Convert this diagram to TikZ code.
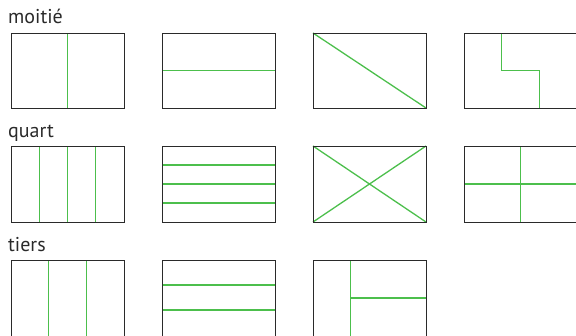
\documentclass[tikz,border=0pt]{standalone}
\usepackage{fontspec}
\setmainfont{PT Sans}
\definecolor{lgreen}{HTML}{4CBF4C}
\definecolor{frame}{HTML}{2A2A2A}
\tikzset{
  box/.style={draw=frame, line width=1pt},
  cut/.style={draw=lgreen, line width=1.3pt},
  lbl/.style={anchor=base west, inner sep=0pt, font=\fontsize{20}{24}\selectfont, text=frame}
}
\begin{document}
\begin{tikzpicture}[x=1pt,y=-1pt]
\useasboundingbox (0,0) rectangle (576,335);
\node[lbl] (moitie) at (8,23) {moitié};
\node[lbl] (quart) at (8,137) {quart};
\node[lbl] (tiers) at (8,251) {tiers};
% row 1: moitie
\draw[cut] (67.5,33) -- (67.5,108);
\draw[cut] (162,70.5) -- (275,70.5);
\draw[cut] (313,33) -- (426,108);
\draw[cut] (501.7,33) -- (501.7,70.5) -- (539.3,70.5) -- (539.3,108);
\draw[box] (11,33) rectangle (124,108);
\draw[box] (162,33) rectangle (275,108);
\draw[box] (313,33) rectangle (426,108);
\draw[box] (464,33) rectangle (577,108);
% row 2: quart
\foreach \i in {1,2,3} \draw[cut] (11+28.25*\i,146) -- (11+28.25*\i,222);
\foreach \i in {1,2,3} \draw[cut] (162,146+19*\i) -- (275,146+19*\i);
\draw[cut] (313,146) -- (426,222);
\draw[cut] (313,222) -- (426,146);
\draw[cut] (520.5,146) -- (520.5,222);
\draw[cut] (464,184) -- (577,184);
\draw[box] (11,146) rectangle (124,222);
\draw[box] (162,146) rectangle (275,222);
\draw[box] (313,146) rectangle (426,222);
\draw[box] (464,146) rectangle (577,222);
% row 3: tiers
\foreach \i in {1,2} \draw[cut] (11+37.67*\i,260) -- (11+37.67*\i,336);
\foreach \i in {1,2} \draw[cut] (162,260+25*\i) -- (275,260+25*\i);
\draw[cut] (350.7,260) -- (350.7,336);
\draw[cut] (350.7,298) -- (426,298);
\draw[box] (11,260) rectangle (124,336);
\draw[box] (162,260) rectangle (275,336);
\draw[box] (313,260) rectangle (426,336);
\end{tikzpicture}
\end{document}
